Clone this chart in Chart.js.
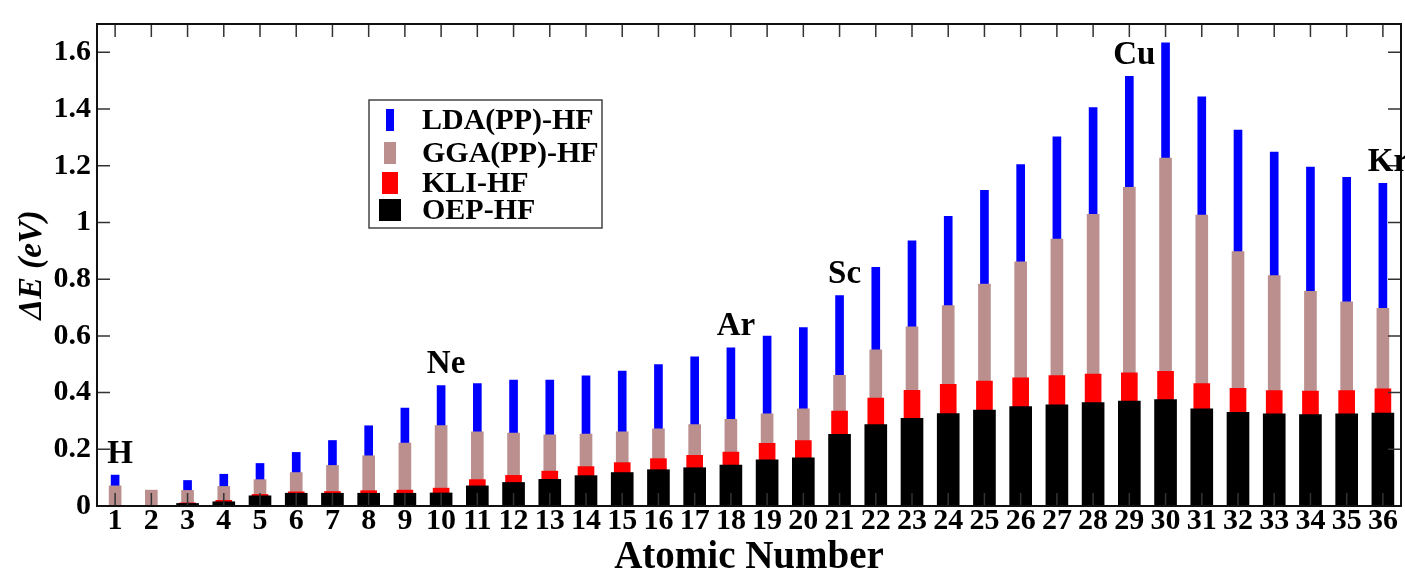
<!DOCTYPE html>
<html lang="en">
<head>
  <meta charset="UTF-8" />
  <title>Delta E por numero atomico</title>
  <script src="https://cdn.jsdelivr.net/npm/chart.js"></script>
  <style>
    html, body { margin: 0; padding: 0; background: #fff; }
    #wrap { width: 1405px; height: 570px; }
  </style>
</head>
<body>
  <div id="wrap"><canvas id="grafico" width="1405" height="570"></canvas></div>

  <script>
    // numeros atomicos (eixo x)
    const numeros = ["1","2","3","4","5","6","7","8","9","10","11","12","13","14","15","16","17","18",
                     "19","20","21","22","23","24","25","26","27","28","29","30","31","32","33","34","35","36"];

    // Delta E (eV)
    const lda = [0.109, 0.055, 0.090, 0.112, 0.150, 0.189, 0.231, 0.283, 0.345, 0.425, 0.432, 0.444,
                 0.444, 0.459, 0.476, 0.499, 0.526, 0.558, 0.599, 0.629, 0.742, 0.842, 0.935, 1.022,
                 1.113, 1.204, 1.302, 1.405, 1.515, 1.634, 1.443, 1.326, 1.248, 1.195, 1.159, 1.138];
    const gga = [0.071, 0.056, 0.055, 0.069, 0.093, 0.118, 0.143, 0.177, 0.222, 0.284, 0.262, 0.257,
                 0.251, 0.254, 0.262, 0.272, 0.287, 0.306, 0.325, 0.343, 0.461, 0.551, 0.632, 0.707,
                 0.783, 0.861, 0.941, 1.029, 1.124, 1.227, 1.026, 0.897, 0.813, 0.757, 0.720, 0.697];
    const kli = [0, 0, 0.011, 0.020, 0.041, 0.050, 0.051, 0.054, 0.056, 0.063, 0.093, 0.108,
                 0.123, 0.139, 0.153, 0.167, 0.179, 0.190, 0.221, 0.231, 0.335, 0.381, 0.408, 0.429,
                 0.441, 0.452, 0.460, 0.465, 0.470, 0.475, 0.432, 0.415, 0.407, 0.405, 0.407, 0.413];
    const oep = [0, 0, 0.009, 0.015, 0.036, 0.045, 0.045, 0.045, 0.045, 0.046, 0.071, 0.083,
                 0.094, 0.107, 0.118, 0.128, 0.135, 0.144, 0.163, 0.170, 0.253, 0.287, 0.309, 0.326,
                 0.338, 0.351, 0.357, 0.365, 0.370, 0.375, 0.343, 0.330, 0.325, 0.322, 0.325, 0.328];

    const yTicks = [0, 0.2, 0.4, 0.6, 0.8, 1.0, 1.2, 1.4, 1.6];
    const yLabels = ["0", "0.2", "0.4", "0.6", "0.8", "1", "1.2", "1.4", "1.6"];

    // elementos marcados acima das barras
    const elementos = ["H", "Ne", "Ar", "Sc", "Cu", "Kr"];
    const elementosZ = ["1", "10", "18", "21", "29", "36"];

    const fonte = '"Liberation Serif", "Times New Roman", serif';

    const series = [
      { label: "LDA(PP)-HF", data: lda, cor: "#0000ff", largura: 8,  ordem: 3 },
      { label: "GGA(PP)-HF", data: gga, cor: "#bc8f8f", largura: 12, ordem: 2 },
      { label: "KLI-HF",     data: kli, cor: "#ff0000", largura: 16, ordem: 1 },
      { label: "OEP-HF",     data: oep, cor: "#000000", largura: 22, ordem: 0 }
    ];

    // moldura, marcas internas, legenda e rotulos dos elementos
    const extras = {
      id: "extras",
      afterDatasetsDraw(chart) {
        const ctx = chart.ctx;
        const a = chart.chartArea;
        const x = chart.scales.x, y = chart.scales.y;
        const tl = 13;
        ctx.save();
        ctx.strokeStyle = "#333";
        ctx.lineWidth = 1.5;
        ctx.beginPath();
        numeros.forEach((n, i) => {
          const px = x.getPixelForValue(i);
          ctx.moveTo(px, a.top); ctx.lineTo(px, a.top + tl);
          ctx.moveTo(px, a.bottom); ctx.lineTo(px, a.bottom - tl);
        });
        yTicks.forEach(v => {
          const py = y.getPixelForValue(v);
          ctx.moveTo(a.left, py); ctx.lineTo(a.left + tl, py);
          ctx.moveTo(a.right, py); ctx.lineTo(a.right - tl, py);
        });
        ctx.stroke();
        ctx.strokeStyle = "#111";
        ctx.lineWidth = 2;
        ctx.strokeRect(a.left, a.top, a.right - a.left, a.bottom - a.top);

        // rotulos dos elementos
        ctx.fillStyle = "#000";
        ctx.font = "bold 33px " + fonte;
        ctx.textAlign = "center";
        ctx.textBaseline = "middle";
        elementos.forEach((nome, k) => {
          const i = numeros.indexOf(elementosZ[k]);
          const px = x.getPixelForValue(i) + 5;
          const py = y.getPixelForValue(lda[i]) - 21;
          ctx.fillText(nome, px, py);
        });

        // legenda
        const lx = 369, ly = 100, lw = 233, lh = 128;
        ctx.fillStyle = "#fff";
        ctx.fillRect(lx, ly, lw, lh);
        ctx.strokeStyle = "#444";
        ctx.lineWidth = 1.5;
        ctx.strokeRect(lx, ly, lw, lh);
        const linhas = [120, 153, 183, 210];
        ctx.font = "bold 30px " + fonte;
        ctx.textAlign = "left";
        series.forEach((s, k) => {
          const cy = ly + (linhas[k] - 100);
          ctx.fillStyle = s.cor;
          ctx.fillRect(lx + 21 - s.largura / 2, cy - 11, s.largura, 22);
          ctx.fillStyle = "#000";
          ctx.fillText(s.label, lx + 53, cy + 1);
        });
        ctx.restore();
      }
    };

    const ctx = document.getElementById("grafico").getContext("2d");
    new Chart(ctx, {
      type: "bar",
      data: {
        labels: numeros,
        datasets: series.map(s => ({
          label: s.label,
          data: s.data,
          backgroundColor: s.cor,
          borderWidth: 0,
          barThickness: s.largura,
          grouped: false,
          order: s.ordem
        }))
      },
      options: {
        responsive: false,
        animation: false,
        layout: { padding: { left: 0, right: 4, top: 13, bottom: 0 } },
        plugins: { legend: { display: false }, tooltip: { enabled: false } },
        scales: {
          x: {
            grid: { display: false, drawTicks: false },
            border: { display: false },
            ticks: {
              color: "#000",
              padding: 0,
              maxRotation: 0,
              autoSkip: false,
              font: { family: fonte, size: 30, weight: "bold", lineHeight: 1 }
            },
            title: {
              display: true,
              text: "Atomic Number",
              color: "#000",
              padding: { top: 0, bottom: 0 },
              font: { family: fonte, size: 39, weight: "bold", lineHeight: 0.62 }
            },
            afterFit(scale) { scale.height = 64; }
          },
          y: {
            min: 0,
            max: 1.7,
            grid: { display: false, drawTicks: false },
            border: { display: false },
            afterBuildTicks(scale) { scale.ticks = yTicks.map(v => ({ value: v })); },
            ticks: {
              color: "#000",
              padding: 6,
              font: { family: fonte, size: 30, weight: "bold" },
              callback: (v, i) => yLabels[i]
            },
            title: {
              display: true,
              text: "ΔE (eV)",
              color: "#000",
              padding: { top: 13, bottom: 0 },
              font: { family: fonte, size: 33, weight: "bold", style: "italic" }
            },
            afterFit(scale) { scale.width = 97; }
          }
        }
      },
      plugins: [extras]
    });
  </script>
</body>
</html>
